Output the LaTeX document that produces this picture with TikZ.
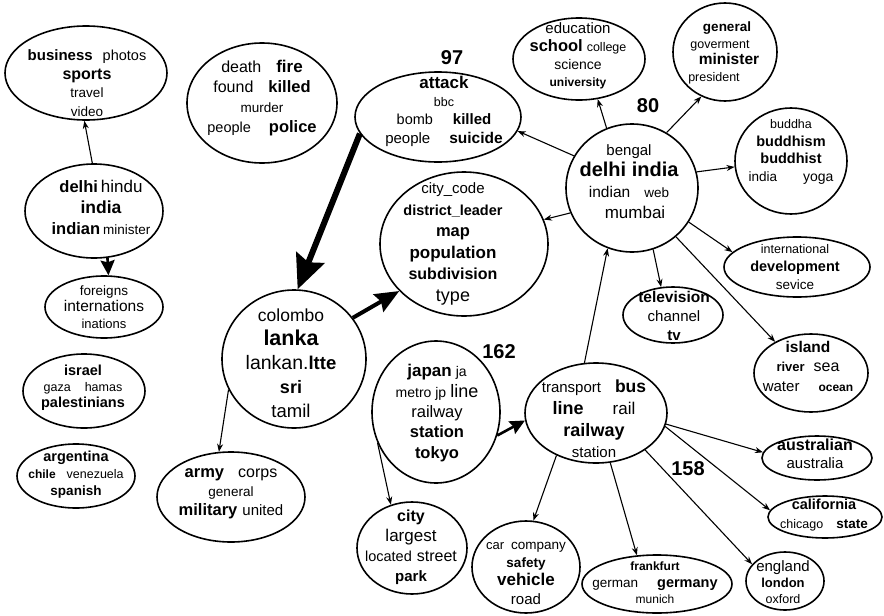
\documentclass[tikz,border=0pt]{standalone}
\usepackage{fontspec}
\setmainfont{Liberation Sans}
\usetikzlibrary{shapes.geometric,arrows.meta}

\newcommand\linegap{18}
\newcommand\fs[1]{\fontsize{#1}{\linegap}\selectfont}
\newcommand\kw[2]{{\fs{#1}\bfseries #2}}
\newcommand\tw[2]{{\fs{#1}#2}}

\begin{document}
\begin{tikzpicture}[x=1pt,y=-1pt,
  topic/.style={ellipse, draw, line width=1.6pt, inner sep=0pt},
  words/.style={align=center, inner sep=0pt, font=\fs{14}},
  lskip/.code={\renewcommand\linegap{#1}},
  count/.style={font=\fontsize{20}{20}\selectfont\bfseries, inner sep=0pt},
  link/.style={-{Stealth[length=8pt,width=6pt]}, line width=1.1pt},
  smallarr/.style={-{Stealth[length=15pt,width=14pt,inset=2pt]}, line width=2.6pt},
  midarr/.style={-{Stealth[length=24pt,width=20pt,inset=3pt]}, line width=4pt},
  fatarr/.style={-{Stealth[length=34pt,width=30pt,inset=5pt]}, line width=6pt}
]
\useasboundingbox (0,0) rectangle (884,616);

% left column
\node[topic, minimum width=162pt, minimum height=94pt] (business) at (86,73) {};
\node[words, lskip=18.7] (businessw) at (87,83)
  {\kw{15}{business}\hspace{10pt}\tw{14.5}{photos}\\ \kw{16}{sports}\\ \tw{13.5}{travel}\\ \tw{13.5}{video}};
\node[topic, minimum width=138pt, minimum height=94pt] (hindu) at (94,211) {};
\node[words, lskip=21] (hinduw) at (101,207)
  {\kw{16.5}{delhi}\hspace{3pt}\tw{17}{hindu}\\ \kw{17.5}{india}\\ \kw{16.5}{indian}\hspace{3pt}\tw{13.5}{minister}};
\node[topic, minimum width=118pt, minimum height=62pt] (foreigns) at (104,307) {};
\node[words, lskip=16.5] (foreignsw) at (104,307)
  {\tw{13.5}{foreigns}\\ \tw{15.5}{internations}\\ \tw{13}{inations}};
\node[topic, minimum width=122pt, minimum height=74pt] (israel) at (84,391) {};
\node[words, lskip=16] (israelw) at (83,388)
  {\kw{14.5}{israel}\\ \tw{12.5}{gaza}\hspace{14pt}\tw{12.5}{hamas}\\ \kw{14.5}{palestinians}};
\node[topic, minimum width=118pt, minimum height=64pt] (argentina) at (76,476) {};
\node[words, lskip=17] (argentinaw) at (76,475)
  {\kw{14.5}{argentina}\\ \kw{12}{chile}\hspace{11pt}\tw{12.5}{venezuela}\\ \kw{13.5}{spanish}};

% middle
\node[topic, minimum width=150pt, minimum height=120pt] (death) at (262,103) {};
\node[words, lskip=20] (deathw) at (262,98)
  {\tw{16}{death}\hspace{15pt}\kw{17}{fire}\\ \tw{16}{found}\hspace{15pt}\kw{16.5}{killed}\\ \tw{13.5}{murder}\\ \tw{14.5}{people}\hspace{18pt}\kw{16.5}{police}};
\node[topic, minimum width=166pt, minimum height=90pt] (attack) at (438,117) {};
\node[words, lskip=18.3] (attackw) at (444,111)
  {\kw{17}{attack}\\ \tw{12.5}{bbc}\\ \tw{14.5}{bomb}\hspace{20pt}\kw{15}{killed}\\ \tw{15}{people}\hspace{19pt}\kw{15.5}{suicide}};
\node[count] (n97) at (452,58) {97};
\node[topic, minimum width=168pt, minimum height=144pt] (citycode) at (464,244) {};
\node[words, lskip=21.6] (citycodew) at (453,244)
  {\tw{15}{city\_code}\\ \kw{14.5}{district\_leader}\\ \kw{16.5}{map}\\ \kw{17}{population}\\ \kw{16}{subdivision}\\ \tw{18}{type}};
\node[topic, minimum width=144pt, minimum height=138pt] (lanka) at (294,359) {};
\node[words, lskip=24] (lankaw) at (291,363)
  {\tw{17.5}{colombo}\\ \kw{21.5}{lanka}\\ \tw{19.5}{lankan.}\kw{18.5}{ltte}\\ \kw{18}{sri}\\ \tw{18.5}{tamil}};
\node[topic, minimum width=148pt, minimum height=90pt] (army) at (231,497) {};
\node[words, lskip=19] (armyw) at (231,494)
  {\kw{16.5}{army}\hspace{14pt}\tw{16}{corps}\\ \tw{13.5}{general}\\ \kw{16.5}{military}\hspace{5pt}\tw{15}{united}};
\node[topic, minimum width=128pt, minimum height=142pt] (japan) at (436,412) {};
\node[words, lskip=20.3] (japanw) at (437,413)
  {\kw{17}{japan}\hspace{4pt}\tw{14}{ja}\\ \tw{14}{metro jp}\hspace{4pt}\tw{18}{line}\\ \tw{16.5}{railway}\\ \kw{16.5}{station}\\ \kw{16.5}{tokyo}};
\node[count] (n162) at (499,352) {162};
\node[topic, minimum width=110pt, minimum height=92pt] (city) at (412,548) {};
\node[words, lskip=20] (cityw) at (411,547)
  {\kw{16}{city}\\ \tw{17}{largest}\\ \tw{14.5}{located}\hspace{5pt}\tw{16}{street}\\ \kw{15}{park}};

% right cluster
\node[topic, minimum width=132pt, minimum height=128pt] (delhi) at (632,188) {};
\node[words, lskip=21] (delhiw) at (629,182)
  {\tw{15}{bengal}\\ \kw{20}{delhi india}\\ \tw{15.5}{indian}\hspace{14pt}\tw{13.5}{web}\\ \hspace*{12pt}\tw{17}{mumbai}};
\node[count] (n80) at (648,106) {80};
\node[topic, minimum width=132pt, minimum height=82pt] (education) at (579,59) {};
\node[words, lskip=17.7] (educationw) at (578,56)
  {\tw{15}{education}\\ \kw{16.5}{school}\hspace{4pt}\tw{12.5}{college}\\ \tw{14}{science}\\ \kw{12}{university}};
\node[topic, minimum width=104pt, minimum height=98pt] (general) at (725,52) {};
\node[words, lskip=16.7] (generalw) at (720,53)
  {\hspace*{14pt}\kw{13.5}{general}\\ \tw{12.5}{goverment}\hspace*{16pt}\\ \hspace*{18pt}\kw{15.5}{minister}\\ \tw{12.5}{president}\hspace*{12pt}};
\node[topic, minimum width=112pt, minimum height=106pt] (buddhism) at (791,161) {};
\node[words, lskip=17.7] (buddhismw) at (791,152)
  {\tw{12.5}{buddha}\\ \kw{14.5}{buddhism}\\ \kw{14.5}{buddhist}\\ \tw{13.5}{india}\hspace{26pt}\tw{14}{yoga}};
\node[topic, minimum width=146pt, minimum height=60pt] (intl) at (797,267) {};
\node[words, lskip=18] (intlw) at (795,267)
  {\tw{12.5}{international}\\ \kw{14.5}{development}\\ \tw{13.5}{sevice}};
\node[topic, minimum width=100pt, minimum height=56pt] (television) at (673,315) {};
\node[words, lskip=19] (televisionw) at (674,316)
  {\kw{15.5}{television}\\ \tw{15}{channel}\\ \kw{15}{tv}};
\node[topic, minimum width=114pt, minimum height=78pt] (island) at (811,373) {};
\node[words, lskip=19.5] (islandw) at (808,366)
  {\kw{15.5}{island}\\ \kw{13}{river}\hspace{9pt}\tw{16}{sea}\\ \tw{15}{water}\hspace{19pt}\kw{12}{ocean}};

% transport cluster
\node[topic, minimum width=142pt, minimum height=100pt] (transport) at (596,413) {};
\node[words, lskip=21.7] (transportw) at (594,419)
  {\tw{15}{transport}\hspace{14pt}\kw{17.5}{bus}\\ \kw{18}{line}\hspace{29pt}\tw{17}{rail}\\ \kw{18}{railway}\\ \tw{15}{station}};
\node[count] (n158) at (688,469) {158};
\node[topic, minimum width=110pt, minimum height=44pt] (australian) at (817,458) {};
\node[words, lskip=18] (australianw) at (815,454)
  {\kw{16}{australian}\\ \tw{15}{australia}};
\node[topic, minimum width=114pt, minimum height=42pt] (california) at (825,517) {};
\node[words, lskip=19] (californiaw) at (824,515)
  {\kw{14.5}{california}\\ \tw{12.5}{chicago}\hspace{13pt}\kw{13.5}{state}};
\node[topic, minimum width=78pt, minimum height=58pt] (england) at (785,581) {};
\node[words, lskip=16] (englandw) at (783,582)
  {\tw{15}{england}\\ \kw{13}{london}\\ \tw{12.5}{oxford}};
\node[topic, minimum width=150pt, minimum height=58pt] (germany) at (657,584) {};
\node[words, lskip=16.5] (germanyw) at (655,583)
  {\kw{12}{frankfurt}\\ \tw{13.5}{german}\hspace{19pt}\kw{14.5}{germany}\\ \tw{12}{munich}};
\node[topic, minimum width=108pt, minimum height=92pt] (car) at (526,567) {};
\node[words, lskip=18.3] (carw) at (526,573)
  {\tw{13}{car}\hspace{7pt}\tw{13.5}{company}\\ \kw{13.5}{safety}\\ \kw{17}{vehicle}\\ \tw{15}{road}};

% connectors
\draw[fatarr] (attack.192) -- (lanka.87);
\draw[midarr] (lanka.35) -- (citycode.216);
\draw[link] (hindu.92) -- (business.268);
\draw[smallarr] (hindu.286) -- (foreigns.82);
\draw[link] (lanka.205) -- (army.105);
\draw[link] (japan.208) -- (city.116);
\draw[smallarr] (japan.339) -- (transport.186);
\draw[link] (transport.103) -- (delhi.248);
\draw[link] (delhi.151) -- (attack.350);
\draw[link] (delhi.202) -- (citycode.17);
\draw[link] (delhi.113) -- (education.295);
\draw[link] (delhi.58) -- (general.242);
\draw[link] (delhi.14) -- (buddhism.186);
\draw[link] (delhi.329) -- (intl.167);
\draw[link] (delhi.289) -- (television.113);
\draw[link] (delhi.312) -- (island.139);
\draw[link] (transport.227) -- (car.81);
\draw[link] (transport.286) -- (germany.125);
\draw[link] (transport.323) -- (england.153);
\draw[link] (transport.349) -- (california.173);
\draw[link] (transport.351) -- (australian.174);
\end{tikzpicture}
\end{document}
